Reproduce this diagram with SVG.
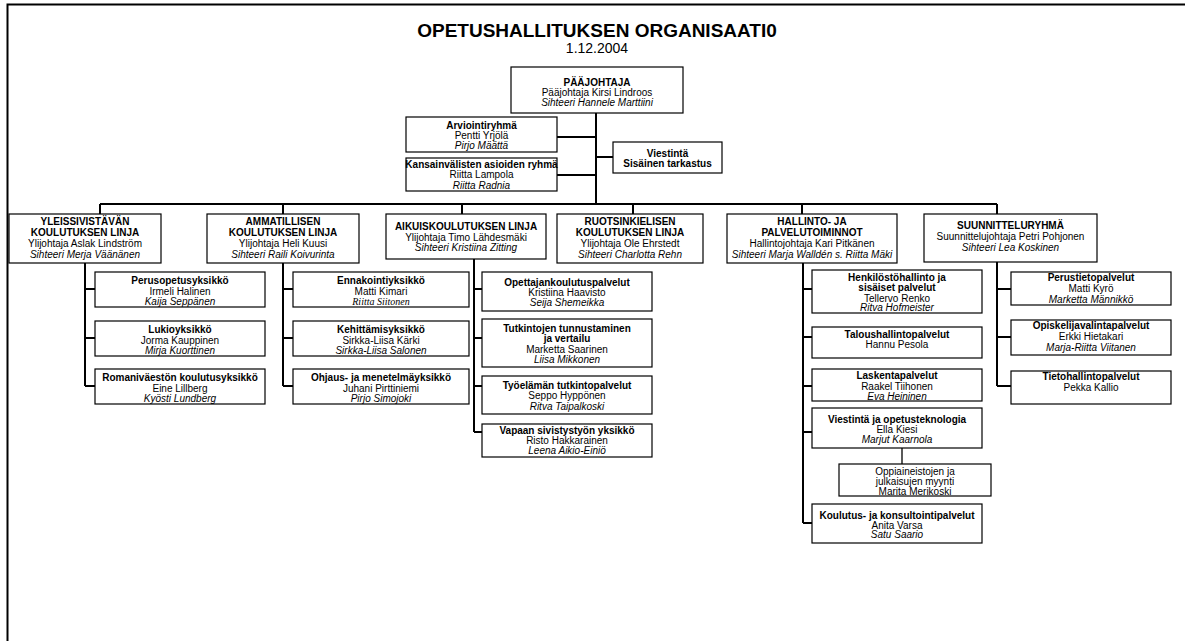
<svg xmlns="http://www.w3.org/2000/svg" width="1185" height="641" viewBox="0 0 1185 641">
<style>
text{font-family:"Liberation Sans",Arial,sans-serif;font-size:10px;fill:#000;text-anchor:middle}
.b{font-weight:bold}
.i{font-style:italic}
.t{font-family:"Liberation Serif","Times New Roman",serif;font-style:italic}
.box{fill:#fff;stroke:#000;stroke-width:1.2}
.c{fill:none;stroke:#000;stroke-width:2}
.c1{fill:none;stroke:#000;stroke-width:1.3}
</style>
<rect width="1185" height="641" fill="#fff"/>
<path d="M7.5,641 V4.5 H1185" fill="none" stroke="#000" stroke-width="2"/>
<text x="597" y="37" class="b" style="font-size:19px">OPETUSHALLITUKSEN ORGANISAATI0</text>
<text x="597" y="53" style="font-size:14px">1.12.2004</text>

<g id="connectors">
<path class="c" d="M596,113 V204 M557,137 H596 M557,175 H596 M596,157 H613"/>
<path class="c" d="M100,204 H997 M100,204 V214 M283,204 V214 M462,204 V214 M633,204 V214 M802,204 V214 M997,204 V214"/>
<path class="c" d="M85,263 V386 M85,289 H95 M85,338 H95 M85,386 H95"/>
<path class="c" d="M283,263 V386 M283,289 H293 M283,338 H293 M283,386 H293"/>
<path class="c" d="M474,259 V432 M474,289 H482 M474,338 H482 M474,386 H482 M474,432 H482"/>
<path class="c" d="M803,263 V523 M803,289 H812 M803,337 H812 M803,386 H812 M803,432 H812 M803,523 H812"/>
<path class="c1" d="M902,448 V464"/>
<path class="c" d="M997,262 V386 M997,289 H1011 M997,337 H1011 M997,386 H1011"/>
</g>

<g id="paajohtaja"><rect class="box" x="511" y="67" width="172" height="46"/>
<text x="597" y="85.5" class="b">PÄÄJOHTAJA</text><text x="597" y="95.5">Pääjohtaja Kirsi Lindroos</text><text x="597" y="105.5" class="i">Sihteeri Hannele Marttiini</text></g>

<g id="arviointiryhma"><rect class="box" x="406" y="117" width="151" height="35"/>
<text x="481.5" y="128.5" class="b">Arviointiryhmä</text><text x="481.5" y="138.5">Pentti Yrjölä</text><text x="481.5" y="148.5" class="i">Pirjo Määttä</text></g>

<g id="kansainvaliset"><rect class="box" x="406" y="158" width="151" height="33"/>
<text x="481.5" y="167.5" class="b">Kansainvälisten asioiden ryhmä</text><text x="481.5" y="178">Riitta Lampola</text><text x="481.5" y="188.5" class="i">Riitta Radnia</text></g>

<g id="viestinta"><rect class="box" x="613" y="142" width="109" height="31"/>
<text x="667.5" y="156.5" class="b">Viestintä</text><text x="667.5" y="167" class="b">Sisäinen tarkastus</text></g>

<g id="yleissivistava"><rect class="box" x="9" y="214" width="152" height="49"/>
<text x="85" y="224.5" class="b">YLEISSIVISTÄVÄN</text><text x="85" y="235.5" class="b">KOULUTUKSEN LINJA</text><text x="85" y="246.5">Ylijohtaja Aslak Lindström</text><text x="85" y="257.5" class="i">Sihteeri Merja Väänänen</text></g>

<g id="ammatillinen"><rect class="box" x="207" y="214" width="152" height="49"/>
<text x="283" y="224.5" class="b">AMMATILLISEN</text><text x="283" y="235.5" class="b">KOULUTUKSEN LINJA</text><text x="283" y="246.5">Ylijohtaja Heli Kuusi</text><text x="283" y="257.5" class="i">Sihteeri Raili Koivurinta</text></g>

<g id="aikuiskoulutus"><rect class="box" x="386" y="214" width="160" height="45"/>
<text x="466" y="229.5" class="b">AIKUISKOULUTUKSEN LINJA</text><text x="466" y="240.5">Ylijohtaja Timo Lähdesmäki</text><text x="466" y="250.5" class="i">Sihteeri Kristiina Zitting</text></g>

<g id="ruotsinkielinen"><rect class="box" x="557" y="214" width="146" height="49"/>
<text x="630" y="224.5" class="b">RUOTSINKIELISEN</text><text x="630" y="235.5" class="b">KOULUTUKSEN LINJA</text><text x="630" y="246.5">Ylijohtaja Ole Ehrstedt</text><text x="630" y="257.5" class="i">Sihteeri Charlotta Rehn</text></g>

<g id="hallinto"><rect class="box" x="727" y="214" width="170" height="49"/>
<text x="812" y="224.5" class="b">HALLINTO- JA</text><text x="812" y="235.5" class="b">PALVELUTOIMINNOT</text><text x="812" y="246.5">Hallintojohtaja Kari Pitkänen</text><text x="812" y="257.5" class="i">Sihteeri Marja Walldén s. Riitta Mäki</text></g>

<g id="suunnittelu"><rect class="box" x="924" y="214" width="173" height="48"/>
<text x="1010.5" y="228.5" class="b">SUUNNITTELURYHMÄ</text><text x="1010.5" y="239.5">Suunnittelujohtaja Petri Pohjonen</text><text x="1010.5" y="250.5" class="i">Sihteeri Lea Koskinen</text></g>

<g id="perusopetus"><rect class="box" x="95" y="272" width="170" height="35"/>
<text x="180" y="284" class="b">Perusopetusyksikkö</text><text x="180" y="294.5">Irmeli Halinen</text><text x="180" y="305" class="i">Kaija Seppänen</text></g>
<g id="lukio"><rect class="box" x="95" y="321" width="170" height="35"/>
<text x="180" y="333" class="b">Lukioyksikkö</text><text x="180" y="343.5">Jorma Kauppinen</text><text x="180" y="354" class="i">Mirja Kuorttinen</text></g>
<g id="romani"><rect class="box" x="95" y="369" width="170" height="35"/>
<text x="180" y="381" class="b">Romaniväestön koulutusyksikkö</text><text x="180" y="391.5">Eine Lillberg</text><text x="180" y="402" class="i">Kyösti Lundberg</text></g>

<g id="ennakointi"><rect class="box" x="293" y="272" width="176" height="35"/>
<text x="381" y="284" class="b">Ennakointiyksikkö</text><text x="381" y="294.5">Matti Kimari</text><text x="381" y="305" class="t">Riitta Siitonen</text></g>
<g id="kehittamis"><rect class="box" x="293" y="321" width="176" height="35"/>
<text x="381" y="333" class="b">Kehittämisyksikkö</text><text x="381" y="343.5">Sirkka-Liisa Kärki</text><text x="381" y="354" class="i">Sirkka-Liisa Salonen</text></g>
<g id="ohjaus"><rect class="box" x="293" y="369" width="176" height="35"/>
<text x="381" y="381" class="b">Ohjaus- ja menetelmäyksikkö</text><text x="381" y="391.5">Juhani Pirttiniemi</text><text x="381" y="402" class="i">Pirjo Simojoki</text></g>

<g id="opettajankoulutus"><rect class="box" x="482" y="272" width="170" height="39"/>
<text x="567" y="285.5" class="b">Opettajankoulutuspalvelut</text><text x="567" y="295.5">Kristiina Haavisto</text><text x="567" y="305.5" class="i">Seija Shemeikka</text></g>
<g id="tutkintojen"><rect class="box" x="482" y="319" width="170" height="48"/>
<text x="567" y="331.5" class="b">Tutkintojen tunnustaminen</text><text x="567" y="342" class="b">ja vertailu</text><text x="567" y="352.5">Marketta Saarinen</text><text x="567" y="363" class="i">Liisa Mikkonen</text></g>
<g id="tyoelaman"><rect class="box" x="482" y="376" width="170" height="38"/>
<text x="567" y="388.5" class="b">Työelämän tutkintopalvelut</text><text x="567" y="399">Seppo Hyppönen</text><text x="567" y="409.5" class="i">Ritva Taipalkoski</text></g>
<g id="vapaan"><rect class="box" x="482" y="424" width="170" height="33"/>
<text x="567" y="433.5" class="b">Vapaan sivistystyön yksikkö</text><text x="567" y="444">Risto Hakkarainen</text><text x="567" y="454" class="i">Leena Aikio-Einiö</text></g>

<g id="henkilosto"><rect class="box" x="812" y="270" width="170" height="43"/>
<text x="897" y="280.5" class="b">Henkilöstöhallinto ja</text><text x="897" y="291" class="b">sisäiset palvelut</text><text x="897" y="301.5">Tellervo Renko</text><text x="897" y="311" class="i">Ritva Hofmeister</text></g>
<g id="talous"><rect class="box" x="812" y="327" width="170" height="31"/>
<text x="897" y="337.5" class="b">Taloushallintopalvelut</text><text x="897" y="348">Hannu Pesola</text></g>
<g id="laskenta"><rect class="box" x="812" y="369" width="170" height="32"/>
<text x="897" y="378.5" class="b">Laskentapalvelut</text><text x="897" y="389.5">Raakel Tiihonen</text><text x="897" y="399.5" class="i">Eva Heininen</text></g>
<g id="viestinta-opetusteknologia"><rect class="box" x="812" y="408" width="170" height="40"/>
<text x="897" y="422.5" class="b">Viestintä ja opetusteknologia</text><text x="897" y="432.5">Ella Kiesi</text><text x="897" y="442.5" class="i">Marjut Kaarnola</text></g>
<g id="oppiaineistot"><rect class="box" x="839" y="464" width="152" height="32"/>
<text x="915" y="474.5">Oppiaineistojen ja</text><text x="915" y="484.5">julkaisujen myynti</text><text x="915" y="494.5">Marita Merikoski</text></g>
<g id="koulutus-konsultointi"><rect class="box" x="812" y="504" width="170" height="39"/>
<text x="897" y="518.5" class="b">Koulutus- ja konsultointipalvelut</text><text x="897" y="528.5">Anita Varsa</text><text x="897" y="538" class="i">Satu Saario</text></g>

<g id="perustieto"><rect class="box" x="1011" y="272" width="160" height="33"/>
<text x="1091" y="280.5" class="b">Perustietopalvelut</text><text x="1091" y="291.5">Matti Kyrö</text><text x="1091" y="302.5" class="i">Marketta Männikkö</text></g>
<g id="opiskelijavalinta"><rect class="box" x="1011" y="320" width="160" height="35"/>
<text x="1091" y="328.5" class="b">Opiskelijavalintapalvelut</text><text x="1091" y="339.5">Erkki Hietakari</text><text x="1091" y="350.5" class="i">Marja-Riitta Viitanen</text></g>
<g id="tietohallinto"><rect class="box" x="1011" y="371" width="160" height="33"/>
<text x="1091" y="379.5" class="b">Tietohallintopalvelut</text><text x="1091" y="390.5">Pekka Kallio</text></g>
</svg>
